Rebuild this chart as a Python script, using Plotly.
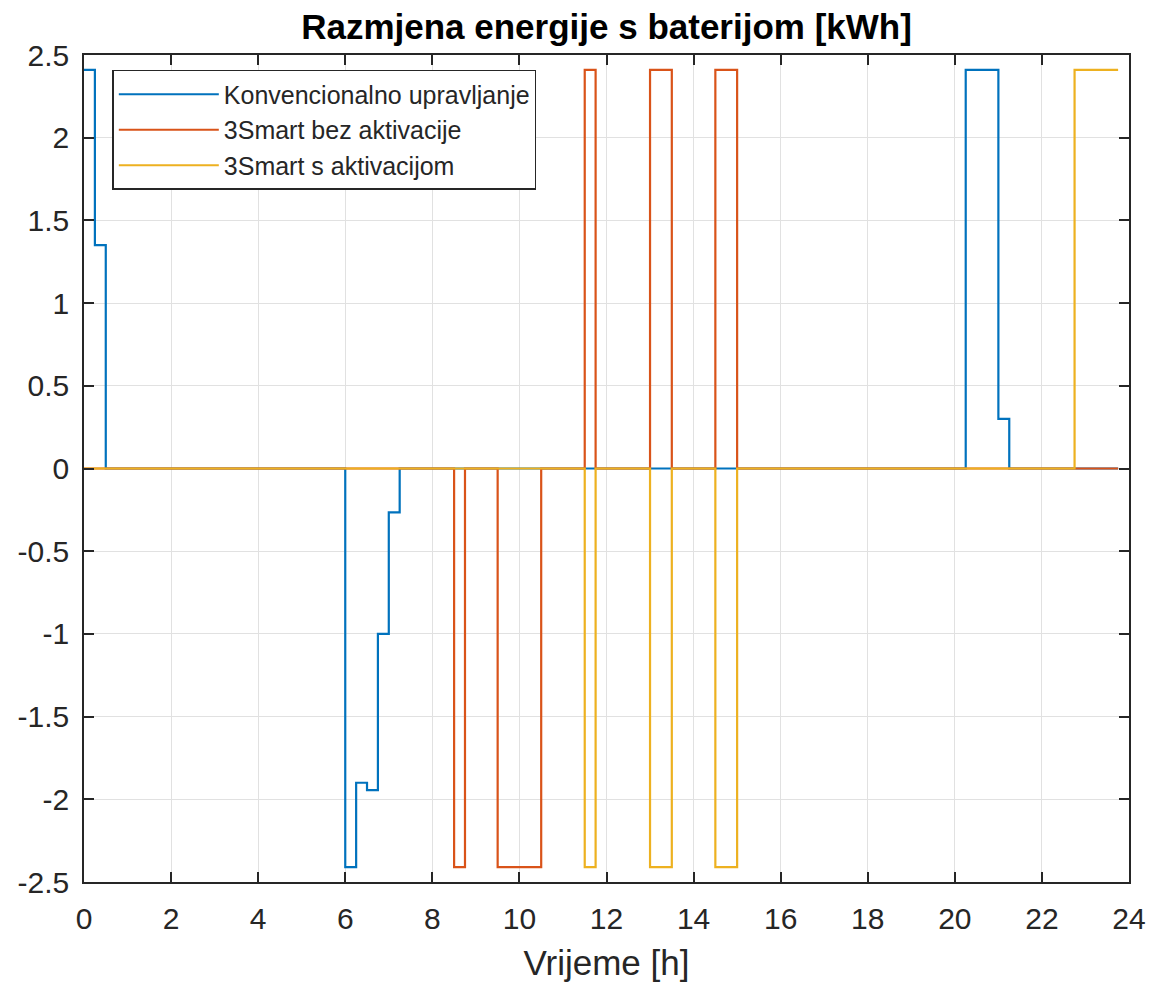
import plotly.graph_objects as go

# ---- data ----
blue_t = [0, 0.25, 0.5, 6.0, 6.25, 6.5, 6.75, 7.0, 7.25, 20.25, 21.0, 21.25, 23.75]
blue_v = [2.41, 1.35, 0, -2.41, -1.90, -1.945, -1.0, -0.265, 0, 2.41, 0.30, 0, 0]

orange_t = [0, 8.5, 8.75, 9.5, 10.5, 11.5, 11.75, 13.0, 13.5, 14.5, 15.0, 23.75]
orange_v = [0, -2.41, 0, -2.41, 0, 2.41, 0, 2.41, 0, 2.41, 0, 0]

yellow_t = [0, 11.5, 11.75, 13.0, 13.5, 14.5, 15.0, 22.75, 23.75]
yellow_v = [0, -2.41, 0, -2.41, 0, -2.41, 0, 2.41, 2.41]

series_names = ["Konvencionalno upravljanje", "3Smart bez aktivacije", "3Smart s aktivacijom"]

x_tick_vals = [0, 2, 4, 6, 8, 10, 12, 14, 16, 18, 20, 22, 24]
x_tick_text = ["0", "2", "4", "6", "8", "10", "12", "14", "16", "18", "20", "22", "24"]
y_tick_vals = [2.5, 2, 1.5, 1, 0.5, 0, -0.5, -1, -1.5, -2, -2.5]
y_tick_text = ["2.5", "2", "1.5", "1", "0.5", "0", "-0.5", "-1", "-1.5", "-2", "-2.5"]

title_text = "Razmjena energije s baterijom [kWh]"
x_label = "Vrijeme [h]"

colors = ["#0072BD", "#D95319", "#EDB120"]
FONT = "Liberation Sans, Arial, Helvetica, sans-serif"
AX = "#262626"

fig = go.Figure()
for t, v, name, c in zip([blue_t, orange_t, yellow_t], [blue_v, orange_v, yellow_v], series_names, colors):
    fig.add_trace(go.Scatter(x=t, y=v, mode="lines", name=name,
                             line=dict(color=c, width=2.2, shape="hv")))

axis_common = dict(
    showline=True, linecolor=AX, linewidth=1.6, mirror="allticks",
    ticks="inside", ticklen=10, tickwidth=1.6, tickcolor=AX,
    showgrid=True, gridcolor="#e1e1e1", gridwidth=1,
    zeroline=False, automargin=False,
    tickfont=dict(family=FONT, size=30, color=AX),
)

fig.update_xaxes(range=[0, 24], tickvals=x_tick_vals, ticktext=x_tick_text,
                 title=dict(text=x_label, font=dict(family=FONT, size=35, color=AX), standoff=17),
                 ticklabelstandoff=9, **axis_common)
fig.update_yaxes(range=[-2.5, 2.5], tickvals=y_tick_vals, ticktext=y_tick_text,
                 ticklabelstandoff=7, **axis_common)

fig.update_layout(
    width=1150, height=984,
    margin=dict(l=84, r=21, t=55, b=102),
    paper_bgcolor="white", plot_bgcolor="white",
    title=dict(text=title_text, xref="paper", x=0.5, xanchor="center",
               yref="container", y=1 - 27 / 984, yanchor="middle",
               font=dict(family=FONT, size=35, color="#000000", weight="bold")),
    legend=dict(x=0.027, y=0.982, xanchor="left", yanchor="top",
                bgcolor="white", bordercolor=AX, borderwidth=1.6,
                font=dict(family=FONT, size=25, color=AX),
                itemwidth=100, tracegroupgap=0),
    showlegend=True,
)

fig.write_html("out.html",
               config={"displayModeBar": False},
               post_script="document.body.style.margin='0';document.body.style.overflow='hidden';")
